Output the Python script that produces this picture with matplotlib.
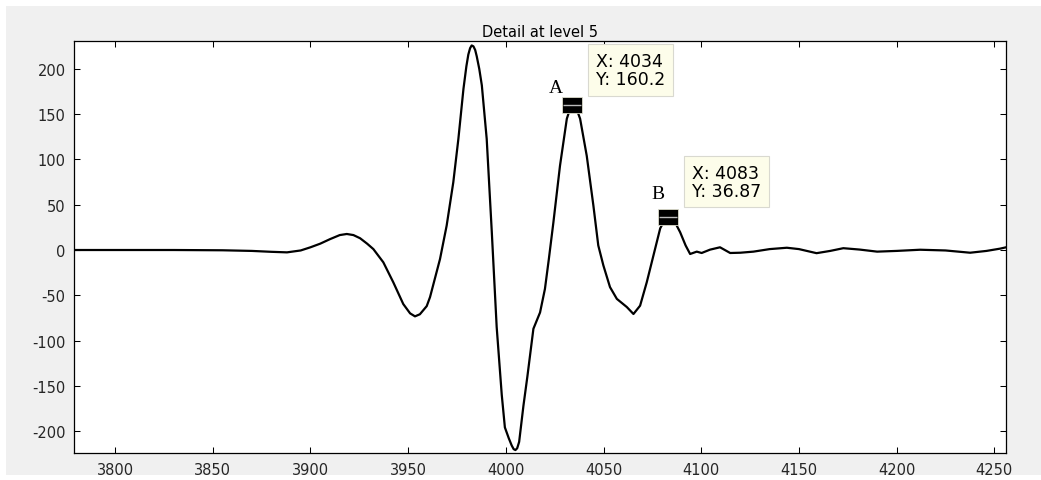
import numpy as np
import matplotlib
matplotlib.use("Agg")
import matplotlib.pyplot as plt
from matplotlib.patches import Rectangle

plt.rcParams["axes.unicode_minus"] = False

# detail coefficients
sample = [3779, 3800, 3830, 3855, 3870, 3880, 3888, 3895, 3900, 3905,
          3910, 3915, 3918.6, 3922, 3925.4, 3929, 3932.2, 3937.3, 3942.4, 3947.5,
          3951, 3953.5, 3956, 3959.5, 3961.2, 3964.6, 3966.3, 3969.7, 3973.1, 3975.7,
          3978.3, 3979.8, 3980.8, 3981.7, 3982.5, 3983.4, 3984.3, 3985.1, 3986.4, 3987.7,
          3990.2, 3992.8, 3995.3, 3997.9, 3999.5, 4001.5, 4003, 4004, 4004.9, 4005.8,
          4006.8, 4009, 4011, 4014.1, 4017.5, 4020, 4022, 4024.3, 4027.7, 4031.2,
          4033, 4034, 4035.2, 4036.5, 4038, 4041.4, 4044.8, 4047.3, 4049.9, 4053.3,
          4056.8, 4061.9, 4065.3, 4068.7, 4072.1, 4075.5, 4079, 4081.5, 4083, 4084.5,
          4086, 4089.2, 4092, 4094.3, 4097.7, 4100.2, 4104.5, 4109.6, 4114.8, 4120,
          4126.7, 4135, 4143.8, 4150, 4159, 4166, 4172.7, 4181, 4190, 4200,
          4212, 4225, 4237.6, 4246, 4252.9, 4256]
detail = [0, 0, 0, -0.3, -1, -2, -2.6, -0.5, 3, 7,
          12, 16.5, 17.7, 16.5, 13, 7, 1, -13.6, -35.7, -59.7,
          -70, -73.3, -71, -62, -52, -24, -10, 26.9, 74.8, 122.7,
          178, 203, 216, 223, 226, 225, 221, 214, 200, 182,
          122.7, 20, -85, -160, -196, -208, -216, -220, -221, -219,
          -212, -172, -140, -87, -69, -43, -10, 30, 93, 145,
          157, 160.2, 159, 154, 145, 104, 49, 5, -17, -41,
          -54, -63, -70.7, -61.5, -35.7, -6.3, 24, 34, 36.87, 36,
          33, 19.6, 5, -4.4, -1.8, -3.3, 0.4, 3, -3.3, -3,
          -1.8, 1, 2.5, 1, -3.5, -1, 2, 0.5, -1.8, -1,
          0.3, -0.5, -3, -1, 1.5, 3]

tip_x = [4034, 4083]
tip_y = [160.2, 36.87]
tip_names = ["A", "B"]

fig = plt.figure(figsize=(10.41, 4.81), dpi=100, facecolor="white")
fig.patches.append(Rectangle((6 / 1041, 5 / 481), 1, 469 / 481,
                             transform=fig.transFigure, facecolor="#f0f0f0",
                             edgecolor="none", zorder=-10))

ax = fig.add_axes([0.0711, 0.0555, 0.8948, 0.8566])
ax.plot(sample, detail, color="black", linewidth=1.6)

ax.set_xlim(3779, 4255.7)
ax.set_ylim(-224.6, 230.6)
ax.set_xticks(np.arange(3800, 4251, 50))
ax.set_yticks(np.arange(-200, 201, 50))
ax.tick_params(direction="in", length=4.3, width=0.75, top=True, right=True,
               labelsize=10.5, labelcolor="#262626", pad=6)
for s in ax.spines.values():
    s.set_linewidth(0.9)
ax.set_title("Detail at level 5", fontsize=10.5, pad=4)

# data tip markers
box = [(-1.27, -1), (1.27, -1), (1.27, 1), (-1.27, 1), (-1.27, -1)]
ax.plot(tip_x, tip_y, linestyle="none", marker=box, markersize=14.2,
        markerfacecolor="black", markeredgecolor="#ddddcc", markeredgewidth=0.6,
        zorder=5)
ax.plot(tip_x, tip_y, linestyle="none", marker="_", markersize=13,
        markeredgecolor="#bbbbbb", markeredgewidth=1.0, zorder=6)

label_offsets = [(-16, 18), (-10, 23)]
for x, y, name, off in zip(tip_x, tip_y, tip_names, label_offsets):
    ax.annotate(name, (x, y), xytext=off, textcoords="offset pixels",
                ha="center", va="center", fontsize=14,
                family="Liberation Serif", zorder=7)
    ax.annotate("X: %g\nY: %g" % (x, y), (x, y), xytext=(24, 53),
                textcoords="offset pixels", ha="left", va="top",
                fontsize=12.5, linespacing=1.0, zorder=8,
                bbox=dict(boxstyle="square,pad=0.45", facecolor="#fdfdea",
                          edgecolor="#d9d9d0", linewidth=0.8))

fig.savefig("out.png", dpi=100, facecolor=fig.get_facecolor())
